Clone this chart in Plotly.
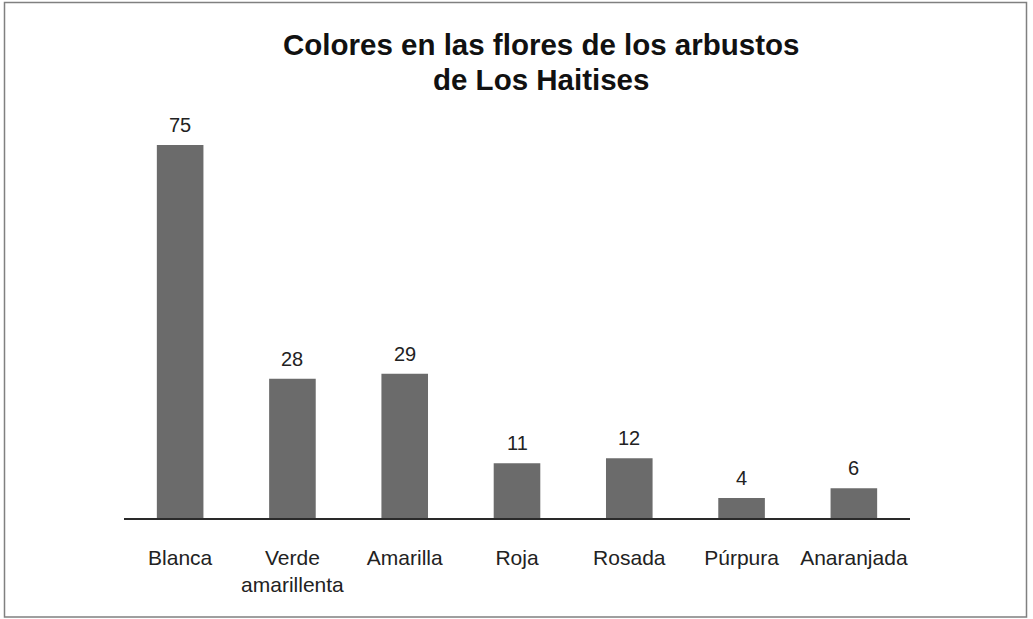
import plotly.graph_objects as go

# Flower colour counts for shrubs of Los Haitises
categories = ["Blanca", "Verde<br>amarillenta", "Amarilla", "Roja", "Rosada", "Púrpura", "Anaranjada"]
counts = [75, 28, 29, 11, 12, 4, 6]

title_lines = ["Colores en las flores de los arbustos", "de Los Haitises"]

W, H = 1033, 619
ML, MR, MT, MB = 124, 123, 120, 101
FONT = "Liberation Sans, Arial, Helvetica, sans-serif"

fig = go.Figure(
    go.Bar(
        x=categories,
        y=counts,
        marker=dict(color="#6b6b6b", line=dict(width=0)),
        hoverinfo="x+y",
    )
)

# value labels above each bar
for cat, val in zip(categories, counts):
    fig.add_annotation(
        x=cat, y=val, text=str(val), showarrow=False,
        yanchor="bottom", yshift=7,
        font=dict(family=FONT, size=20, color="#222222"),
    )

# helpers to place items in paper coordinates from pixel positions
pw, ph = W - ML - MR, H - MT - MB
def px_to_paper_x(px):
    return (px - ML) / pw
def px_to_paper_y(py):
    return (H - MB - py) / ph

# two-line heading, set as separate lines to control the line spacing
for line, top in zip(title_lines, [26, 61]):
    fig.add_annotation(
        xref="paper", yref="paper",
        x=px_to_paper_x(541), y=px_to_paper_y(top),
        xanchor="center", yanchor="top",
        text=line, showarrow=False,
        font=dict(family=FONT, size=29.5, color="#111111", weight="bold"),
    )

# frame around the whole figure
fig.add_shape(
    type="rect", xref="paper", yref="paper",
    x0=px_to_paper_x(4.5), x1=px_to_paper_x(1026.5),
    y0=px_to_paper_y(617), y1=px_to_paper_y(2.5),
    line=dict(color="#808080", width=1.5), fillcolor="rgba(0,0,0,0)",
    layer="below",
)

fig.update_layout(
    width=W, height=H,
    margin=dict(l=ML, r=MR, t=MT, b=MB),
    paper_bgcolor="white", plot_bgcolor="white",
    bargap=0.585,
    showlegend=False,
    font=dict(family=FONT, color="#222222"),
)

fig.update_xaxes(
    showline=True, linecolor="#2a2a2a", linewidth=1.5,
    showgrid=False, ticks="", ticklabelstandoff=20,
    tickfont=dict(family=FONT, size=21, color="#222222"),
    range=[-0.5, len(categories) - 0.5],
)
fig.update_yaxes(
    range=[0, 80], visible=False, showgrid=False, zeroline=False,
)

fig.write_html("out.html")
